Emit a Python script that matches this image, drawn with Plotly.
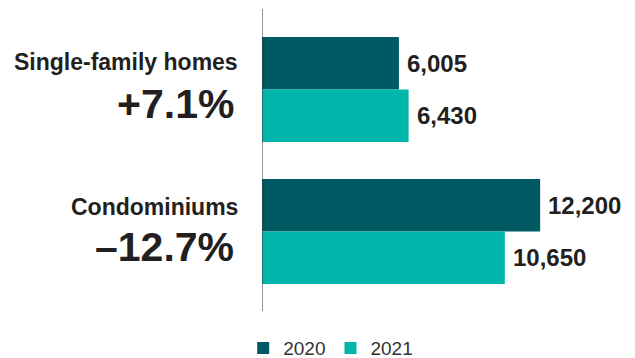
import plotly.graph_objects as go

categories = ["Single-family homes", "Condominiums"]
changes = ["+7.1%", "\u201312.7%"]
years = ["2020", "2021"]
values_2020 = [6005, 12200]
values_2021 = [6430, 10650]
colors = {"2020": "#005a64", "2021": "#00b5aa"}

FONT = "Liberation Sans, Arial, sans-serif"
INK = "#231f20"

fig = go.Figure()
for year, vals in zip(years, [values_2020, values_2021]):
    fig.add_trace(go.Bar(
        y=categories, x=vals, name=year, orientation="h",
        marker=dict(color=colors[year], line=dict(width=0)),
        hoverinfo="skip",
    ))

annotations = []
# value labels just past the end of each bar
offsets = {"2020": -0.185, "2021": 0.185}
for year, vals in zip(years, [values_2020, values_2021]):
    for i, v in enumerate(vals):
        annotations.append(dict(
            x=v, y=i + offsets[year], xref="x", yref="y",
            text=f"<b>{v:,}</b>", showarrow=False,
            xanchor="left", yanchor="middle", xshift=6,
            font=dict(family=FONT, size=24, color=INK),
        ))

# category names and percentage change to the left of the axis
name_shift = [28, 24]
change_shift = [-14, -16]
for i, (cat, chg) in enumerate(zip(categories, changes)):
    annotations.append(dict(
        x=0, y=i, xref="paper", yref="y", text=f"<b>{cat}</b>",
        showarrow=False, xanchor="right", yanchor="middle",
        xshift=-22, yshift=name_shift[i],
        font=dict(family=FONT, size=23, color=INK),
    ))
    annotations.append(dict(
        x=0, y=i, xref="paper", yref="y", text=f"<b>{chg}</b>",
        showarrow=False, xanchor="right", yanchor="middle",
        xshift=-26, yshift=change_shift[i],
        font=dict(family=FONT, size=41, color=INK),
    ))

fig.update_layout(
    width=635, height=358,
    margin=dict(l=262, r=31, t=9, b=47, autoexpand=False),
    paper_bgcolor="white", plot_bgcolor="white",
    barmode="group", bargap=0.26, bargroupgap=0,
    showlegend=True,
    legend=dict(
        orientation="h", x=-0.055, xanchor="left",
        y=-0.123, yanchor="middle",
        font=dict(family=FONT, size=19, color="#333333"),
        itemwidth=30, tracegroupgap=0,
    ),
    xaxis=dict(range=[0, 15000], visible=False, fixedrange=True),
    yaxis=dict(
        type="category", range=[1.56, -0.567], showticklabels=False,
        showgrid=False, zeroline=False, ticks="",
        showline=False,
    ),
    annotations=annotations,
    shapes=[dict(type="line", xref="x", yref="paper", x0=0, x1=0, y0=0, y1=1,
                 line=dict(color="#333333", width=1))],
)

fig.write_html("out.html")
